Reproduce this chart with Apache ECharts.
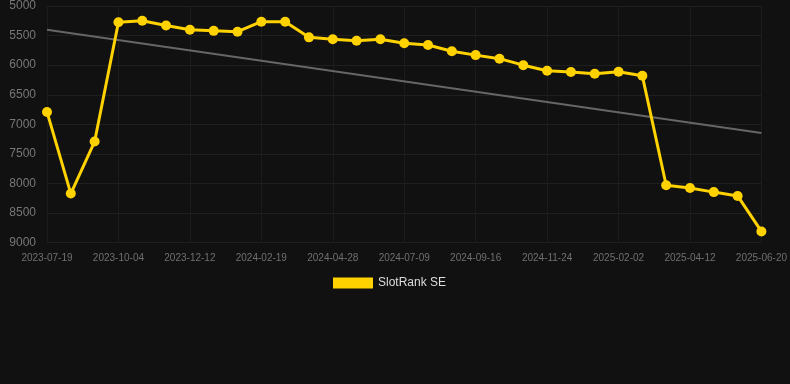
<!DOCTYPE html>
<html>
<head>
<meta charset="utf-8">
<script src="https://cdn.jsdelivr.net/npm/echarts@6/dist/echarts.min.js"></script>
<style>html,body{margin:0;padding:0;background:#111111;}#c{width:790px;height:384px;}</style>
</head>
<body>
<div id="c"></div>
<script>
const categories = [
  "2023-07-19","2023-08-13","2023-09-08","2023-10-04","2023-10-27","2023-11-19",
  "2023-12-12","2024-01-04","2024-01-27","2024-02-19","2024-03-13","2024-04-05",
  "2024-04-28","2024-05-21","2024-06-15","2024-07-09","2024-08-01","2024-08-24",
  "2024-09-16","2024-10-09","2024-11-01","2024-11-24","2024-12-17","2025-01-09",
  "2025-02-02","2025-02-25","2025-03-20","2025-04-12","2025-05-05","2025-05-28",
  "2025-06-20"
];
const rankValues = [
  6790, 8170, 7290, 5275, 5250, 5330, 5400, 5420, 5435, 5265, 5265, 5530,
  5563, 5586, 5563, 5630, 5660, 5765, 5830, 5890, 6000, 6095, 6115, 6145,
  6110, 6180, 8030, 8075, 8145, 8210, 8810
];
const trendStart = 5400;
const trendEnd = 7146;
const yTicks = [5000, 5500, 6000, 6500, 7000, 7500, 8000, 8500, 9000];
const seriesName = "SlotRank SE";

const trendData = categories.map((c, i) => i === 0 ? trendStart : (i === categories.length - 1 ? trendEnd : null));

const chart = echarts.init(document.getElementById('c'), null, {renderer: 'canvas'});
chart.setOption({
  backgroundColor: '#111111',
  animation: false,
  grid: {left: 47, right: 28, top: 6, bottom: 141.3, containLabel: false},
  legend: {
    data: [{name: seriesName, icon: 'rect'}],
    top: 272, left: 328,
    itemWidth: 40, itemHeight: 11, itemGap: 10,
    textStyle: {color: '#dddddd', fontSize: 12, fontFamily: 'Liberation Sans, Arial, sans-serif'}
  },
  xAxis: {
    type: 'category',
    data: categories,
    boundaryGap: false,
    axisLine: {show: false},
    axisTick: {show: false},
    axisLabel: {interval: 2, color: '#707070', fontSize: 10, margin: 11, fontFamily: 'Liberation Sans, Arial, sans-serif'},
    splitLine: {show: true, interval: 2, lineStyle: {color: '#1c1c1c', width: 1}}
  },
  yAxis: {
    type: 'value',
    inverse: true,
    min: yTicks[0], max: yTicks[yTicks.length - 1], interval: 500,
    axisLine: {show: false},
    axisTick: {show: false},
    axisLabel: {color: '#777777', fontSize: 12, margin: 11, formatter: v => String(v), fontFamily: 'Liberation Sans, Arial, sans-serif'},
    splitLine: {show: true, lineStyle: {color: '#1f1f1f', width: 1}}
  },
  series: [
    {
      name: seriesName,
      type: 'line',
      data: rankValues,
      color: '#ffd200',
      lineStyle: {color: '#ffd200', width: 3},
      itemStyle: {color: '#ffd200'},
      symbol: 'circle',
      symbolSize: 10,
      z: 3
    },
    {
      name: 'trend',
      type: 'line',
      data: trendData,
      connectNulls: true,
      symbol: 'none',
      lineStyle: {color: '#666666', width: 2},
      z: 2,
      silent: true
    }
  ]
});
</script>
</body>
</html>
